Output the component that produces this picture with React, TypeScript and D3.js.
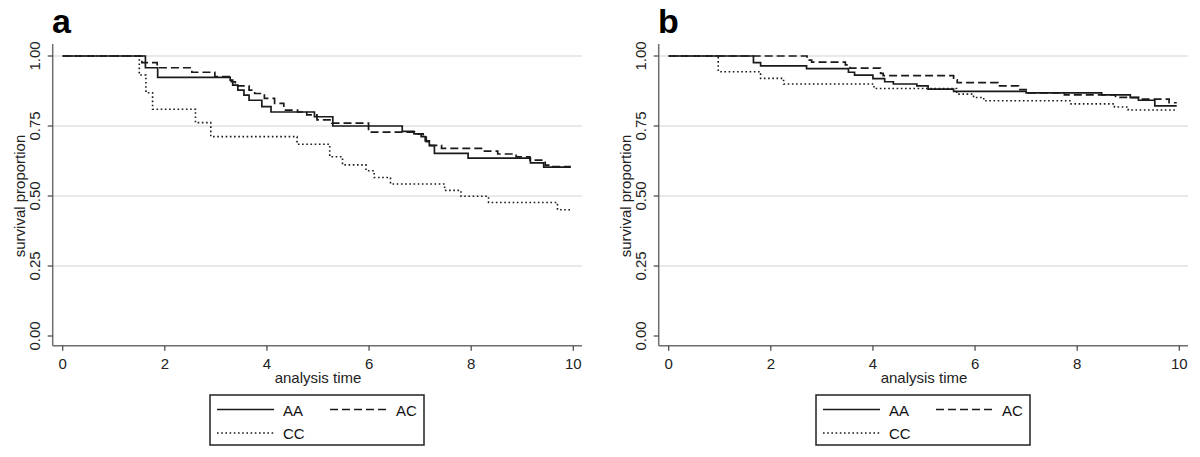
import React from "react";
import * as d3 from "d3";

// ---------- data ----------
const xTicks = [0, 2, 4, 6, 8, 10];
const yTicks = [0, 0.25, 0.5, 0.75, 1];
const yTickLabels = ["0.00", "0.25", "0.50", "0.75", "1.00"];
const gridValues = [0.25, 0.5, 0.75, 1];
const seriesNames = ["AA", "AC", "CC"];

// Panel a
const aAA_time = [0, 1.62, 1.86, 3.28, 3.33, 3.43, 3.55, 3.65, 3.9, 4.08, 4.93, 5.29, 6.65, 6.88, 7.02, 7.1, 7.18, 7.28, 7.94, 9.16, 9.42, 9.95];
const aAA_surv = [1, 0.958, 0.924, 0.914, 0.896, 0.878, 0.86, 0.842, 0.819, 0.8, 0.783, 0.75, 0.731, 0.722, 0.712, 0.697, 0.68, 0.652, 0.635, 0.618, 0.603, 0.603];

const aAC_time = [0, 1.55, 1.85, 2.53, 2.98, 3.3, 3.38, 3.65, 3.76, 3.95, 4.15, 4.33, 4.6, 4.78, 4.98, 5.27, 5.99, 6.89, 7.06, 7.12, 7.2, 7.42, 8.26, 8.52, 8.88, 9.15, 9.45, 9.6, 9.95];
const aAC_surv = [1, 0.976, 0.958, 0.942, 0.926, 0.908, 0.893, 0.878, 0.866, 0.849, 0.831, 0.807, 0.8, 0.79, 0.772, 0.76, 0.728, 0.722, 0.71, 0.694, 0.681, 0.67, 0.66, 0.65, 0.64, 0.628, 0.61, 0.605, 0.605];

const aCC_time = [0, 1.5, 1.63, 1.76, 2.6, 2.9, 4.59, 5.23, 5.48, 5.94, 6.1, 6.42, 7.48, 7.8, 8.34, 9.69, 9.95];
const aCC_surv = [1, 0.932, 0.869, 0.81, 0.762, 0.712, 0.685, 0.64, 0.611, 0.59, 0.566, 0.543, 0.52, 0.499, 0.477, 0.451, 0.451];

// Panel b
const bAA_time = [0, 1.66, 1.8, 2.7, 3.52, 3.64, 4.0, 4.23, 4.4, 4.86, 5.08, 5.58, 7.0, 8.48, 9.04, 9.2, 9.52, 9.95];
const bAA_surv = [1, 0.976, 0.965, 0.955, 0.942, 0.932, 0.919, 0.908, 0.9, 0.893, 0.882, 0.874, 0.868, 0.861, 0.851, 0.842, 0.822, 0.822];

const bAC_time = [0, 2.71, 2.8, 3.46, 3.55, 4.15, 4.2, 5.58, 5.65, 6.45, 6.85, 7.0, 7.75, 8.75, 9.2, 9.8, 9.95];
const bAC_surv = [1, 0.985, 0.978, 0.968, 0.957, 0.938, 0.93, 0.915, 0.905, 0.893, 0.88, 0.868, 0.861, 0.852, 0.846, 0.833, 0.833];

const bCC_time = [0, 0.97, 1.8, 2.25, 4.02, 5.64, 5.97, 6.17, 7.88, 8.73, 9.0, 9.95];
const bCC_surv = [1, 0.944, 0.92, 0.9, 0.884, 0.864, 0.852, 0.84, 0.829, 0.818, 0.807, 0.807];

const panels = [
  { label: "a", offset: 0, series: [[aAA_time, aAA_surv], [aAC_time, aAC_surv], [aCC_time, aCC_surv]] },
  { label: "b", offset: 606, series: [[bAA_time, bAA_surv], [bAC_time, bAC_surv], [bCC_time, bCC_surv]] },
];

const FONT = "'Liberation Sans', Arial, Helvetica, sans-serif";
const INK = "#1a1a1a";
const dashFor = ["none", "8,4", "1.6,2.6"];

function Panel({ label, offset, series }: { label: string; offset: number; series: number[][][] }) {
  const x = d3.scaleLinear().domain([0, 10]).range([62.7 + offset, 573.3 + offset]);
  const y = d3.scaleLinear().domain([0, 1]).range([336, 56]);
  const axisX = 52.7 + offset;
  const axisY = 345.7;
  const axisRight = 582 + offset;
  const line = d3
    .line<[number, number]>()
    .x((d) => x(d[0]))
    .y((d) => y(d[1]))
    .curve(d3.curveStepAfter);
  const midX = (x(0) + x(10)) / 2;
  const legLeft = 210 + offset;

  return (
    <g>
      <text x={52 + offset} y={33} fontFamily={FONT} fontWeight="bold" fontSize={34} fill="#000">
        {label}
      </text>
      {gridValues.map((g) => (
        <line key={g} x1={axisX} x2={axisRight} y1={y(g)} y2={y(g)} stroke="#e2e2e2" strokeWidth={1.5} />
      ))}
      {/* axes */}
      <line x1={axisX} x2={axisX} y1={44} y2={axisY} stroke="#6e6e6e" strokeWidth={1.5} />
      <line x1={axisX} x2={axisRight} y1={axisY} y2={axisY} stroke="#6e6e6e" strokeWidth={1.5} />
      {yTicks.map((t, i) => (
        <g key={t}>
          <line x1={axisX - 5} x2={axisX} y1={y(t)} y2={y(t)} stroke="#444" strokeWidth={1.2} />
          <text
            transform={`translate(${39.5 + offset},${y(t)}) rotate(-90)`}
            textAnchor="middle"
            fontFamily={FONT}
            fontSize={15}
            fill="#222"
          >
            {yTickLabels[i]}
          </text>
        </g>
      ))}
      {xTicks.map((t) => (
        <g key={t}>
          <line x1={x(t)} x2={x(t)} y1={axisY} y2={axisY + 5} stroke="#444" strokeWidth={1.2} />
          <text x={x(t)} y={368.5} textAnchor="middle" fontFamily={FONT} fontSize={15} fill="#222">
            {t}
          </text>
        </g>
      ))}
      <text x={midX} y={383} textAnchor="middle" fontFamily={FONT} fontSize={15} fill="#222">
        analysis time
      </text>
      <text
        transform={`translate(${25 + offset},${(y(0) + y(1)) / 2}) rotate(-90)`}
        textAnchor="middle"
        fontFamily={FONT}
        fontSize={15}
        fill="#222"
      >
        survival proportion
      </text>
      {/* curves */}
      {series.map((s, i) => {
        const pts = s[0].map((t, j) => [t, s[1][j]] as [number, number]);
        return (
          <path
            key={i}
            d={line(pts) || ""}
            fill="none"
            stroke={INK}
            strokeWidth={i === 2 ? 1.6 : 1.7}
            strokeDasharray={dashFor[i]}
          />
        );
      })}
      {/* legend */}
      <rect x={legLeft} y={395} width={214} height={50} fill="#fff" stroke="#222" strokeWidth={1.5} />
      {[
        { i: 0, lx: legLeft + 7, ly: 409.5, tx: legLeft + 73, ty: 416 },
        { i: 1, lx: legLeft + 120, ly: 409.5, tx: legLeft + 186, ty: 416 },
        { i: 2, lx: legLeft + 7, ly: 433, tx: legLeft + 73, ty: 439 },
      ].map((e) => (
        <g key={e.i}>
          <line x1={e.lx} x2={e.lx + 57} y1={e.ly} y2={e.ly} stroke={INK} strokeWidth={1.7} strokeDasharray={dashFor[e.i]} />
          <text x={e.tx} y={e.ty} fontFamily={FONT} fontSize={15} fill="#111">
            {seriesNames[e.i]}
          </text>
        </g>
      ))}
    </g>
  );
}

export default function App() {
  return (
    <svg
      width={1200}
      height={457}
      style={{ position: "absolute", left: 0, top: 0, background: "#fff" }}
    >
      <rect x={0} y={0} width={1200} height={457} fill="#fff" />
      {panels.map((p) => (
        <Panel key={p.label} label={p.label} offset={p.offset} series={p.series} />
      ))}
    </svg>
  );
}
